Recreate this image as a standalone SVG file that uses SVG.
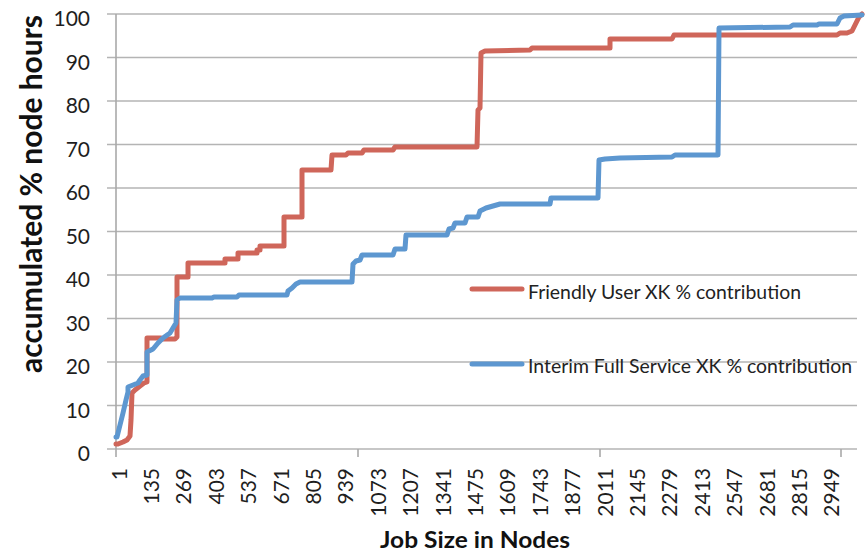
<svg xmlns="http://www.w3.org/2000/svg" width="865" height="553" viewBox="0 0 865 553">
  <style>
    .grid { stroke: #b4b4b4; stroke-width: 1.6; fill: none; }
    .axis { stroke: #a9a9a9; stroke-width: 1.6; fill: none; }
    .tick { font-family: Lato, "Open Sans", sans-serif; font-size: 21px; fill: #1e1e1e; }
    .title { font-family: Lato, "Open Sans", sans-serif; font-weight: bold; fill: #111; }
    .legend { font-family: Lato, "Open Sans", sans-serif; font-size: 20px; fill: #222; }
    .series { fill: none; stroke-width: 5; stroke-linejoin: round; stroke-linecap: round; }
    .friendly { stroke: #cf665a; }
    .interim { stroke: #5d97d0; }
  </style>
  <rect width="865" height="553" fill="#ffffff"/>

  <!-- horizontal gridlines, 0..100 -->
  <g id="gridlines">
    <line class="grid" x1="107" y1="14" x2="857" y2="14"/>
    <line class="grid" x1="107" y1="57.5" x2="857" y2="57.5"/>
    <line class="grid" x1="107" y1="101" x2="857" y2="101"/>
    <line class="grid" x1="107" y1="144.5" x2="857" y2="144.5"/>
    <line class="grid" x1="107" y1="188" x2="857" y2="188"/>
    <line class="grid" x1="107" y1="231.5" x2="857" y2="231.5"/>
    <line class="grid" x1="107" y1="275" x2="857" y2="275"/>
    <line class="grid" x1="107" y1="318.5" x2="857" y2="318.5"/>
    <line class="grid" x1="107" y1="362" x2="857" y2="362"/>
    <line class="grid" x1="107" y1="405.5" x2="857" y2="405.5"/>
    <line class="grid" x1="107" y1="449" x2="857" y2="449"/>
  </g>

  <!-- axes with tick marks -->
  <g id="axes">
    <line class="axis" x1="116" y1="14" x2="116" y2="457"/>
    <line class="axis" x1="358" y1="449" x2="358" y2="457"/>
    <line class="axis" x1="600" y1="449" x2="600" y2="457"/>
    <line class="axis" x1="841" y1="449" x2="841" y2="457"/>
  </g>

  <!-- y tick labels -->
  <g id="y-labels" class="tick" text-anchor="end">
    <text x="90" y="26">100</text>
    <text x="90" y="69.5">90</text>
    <text x="90" y="113">80</text>
    <text x="90" y="156.5">70</text>
    <text x="90" y="200">60</text>
    <text x="90" y="243.5">50</text>
    <text x="90" y="287">40</text>
    <text x="90" y="330.5">30</text>
    <text x="90" y="374">20</text>
    <text x="90" y="417.5">10</text>
    <text x="90" y="461">0</text>
  </g>

  <!-- x tick labels (rotated) -->
  <g id="x-labels" class="tick" text-anchor="end">
    <text transform="translate(126.5,468) rotate(-90)">1</text>
    <text transform="translate(158.9,468) rotate(-90)">135</text>
    <text transform="translate(191.3,468) rotate(-90)">269</text>
    <text transform="translate(223.7,468) rotate(-90)">403</text>
    <text transform="translate(256.1,468) rotate(-90)">537</text>
    <text transform="translate(288.5,468) rotate(-90)">671</text>
    <text transform="translate(320.9,468) rotate(-90)">805</text>
    <text transform="translate(353.3,468) rotate(-90)">939</text>
    <text transform="translate(385.7,468) rotate(-90)">1073</text>
    <text transform="translate(418.1,468) rotate(-90)">1207</text>
    <text transform="translate(450.5,468) rotate(-90)">1341</text>
    <text transform="translate(482.9,468) rotate(-90)">1475</text>
    <text transform="translate(515.3,468) rotate(-90)">1609</text>
    <text transform="translate(547.7,468) rotate(-90)">1743</text>
    <text transform="translate(580.1,468) rotate(-90)">1877</text>
    <text transform="translate(612.5,468) rotate(-90)">2011</text>
    <text transform="translate(644.9,468) rotate(-90)">2145</text>
    <text transform="translate(677.3,468) rotate(-90)">2279</text>
    <text transform="translate(709.7,468) rotate(-90)">2413</text>
    <text transform="translate(742.1,468) rotate(-90)">2547</text>
    <text transform="translate(774.5,468) rotate(-90)">2681</text>
    <text transform="translate(806.9,468) rotate(-90)">2815</text>
    <text transform="translate(839.3,468) rotate(-90)">2949</text>
  </g>

  <!-- axis titles -->
  <g id="axis-titles">
    <text class="title" font-size="30" text-anchor="middle" textLength="358" lengthAdjust="spacingAndGlyphs" transform="translate(42,194) rotate(-90)">accumulated % node hours</text>
    <text class="title" font-size="22" x="475" y="548" text-anchor="middle" textLength="190" lengthAdjust="spacingAndGlyphs">Job Size in Nodes</text>
  </g>

  <!-- data series -->
  <g id="series">
    <path id="friendly-user" class="series friendly" d="M116,444 L118,444 L123,442 L127,440 L130,436 L131,420 L132,393 L135,390 L140,386 L144,383 L147,382 L147,338 L161,338 L163,339 L175,339 L177,337 L177,277 L188,277 L188,263 L225,263 L225,259 L238,259 L238,253 L257,253 L257,250 L260,250 L260,246 L284,246 L284,217 L302,217 L302,170 L331,170 L332,155 L346,155 L348,153 L362,153 L364,150 L393,150 L395,147 L477,147 L478,110 L480,108 L481,53 L485,51 L530,50 L532,48 L610,48 L610,39 L672,39 L674,35 L837,35 L840,33 L847,33 L852,31 L855,25 L859,17 L862,14"/>
    <path id="interim-full-service" class="series interim" d="M116,437 L117,437 L120,425 L123,413 L126,400 L128,392 L128,387 L133,385 L138,383 L140,380 L143,376 L147,375 L147,352 L153,349 L158,343 L163,338 L170,333 L173,328 L176,323 L177,300 L180,298 L212,298 L214,297 L237,297 L239,295 L287,295 L288,291 L292,288 L296,284 L300,282 L352,282 L353,264 L356,261 L360,260 L362,255 L393,255 L395,249 L405,249 L406,235 L447,235 L449,229 L453,228 L455,223 L465,223 L467,217 L478,217 L480,211 L486,208 L493,206 L500,204 L550,204 L551,198 L598,198 L599,160 L605,159 L620,158 L672,157 L675,155 L718,155 L719,28 L790,27 L793,25 L817,25 L819,24 L837,24 L840,18 L844,16 L862,15"/>
  </g>

  <!-- legend -->
  <g id="legend">
    <line class="series friendly" x1="472" y1="289" x2="522" y2="289"/>
    <text class="legend" x="528" y="299" textLength="273" lengthAdjust="spacingAndGlyphs">Friendly User XK % contribution</text>
    <line class="series interim" x1="472" y1="364" x2="522" y2="364"/>
    <text class="legend" x="528" y="373" textLength="324" lengthAdjust="spacingAndGlyphs">Interim Full Service XK % contribution</text>
  </g>
</svg>
